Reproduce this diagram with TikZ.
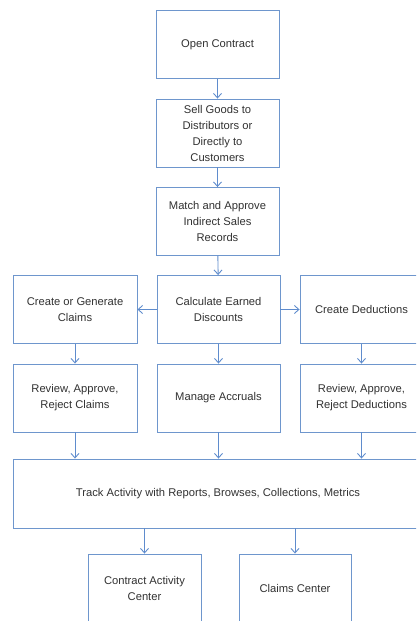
\documentclass[tikz,border=0pt]{standalone}
\usepackage{fontspec}
\setmainfont{Liberation Sans}
\usepackage{tikz}
\usetikzlibrary{arrows.meta}
\definecolor{boxblue}{RGB}{110,150,205}
\definecolor{arrowblue}{RGB}{95,140,205}
\definecolor{txtgray}{RGB}{50,50,50}
\tikzset{
  stepbox/.style={rectangle,draw=boxblue,line width=0.9pt,align=center,text=txtgray,
    font=\fontsize{11.2}{16}\selectfont,inner sep=0pt,minimum width=123pt,minimum height=68pt},
  flow/.style={arrowblue,line width=0.9pt,-{Straight Barb[length=4.5pt,width=8pt]}}
}

\begin{document}
\begin{tikzpicture}[x=1pt,y=-1pt]
 \useasboundingbox (0,0) rectangle (416,621);
 \clip (0,0) rectangle (416,621);
 \fill[white] (0,0) rectangle (416,621);
 \node[stepbox] (open) at (217.5,44.5) {Open Contract};
 \node[stepbox] (sell) at (217.5,133) {Sell Goods to\\Distributors or\\Directly to\\Customers};
 \node[stepbox] (match) at (217.5,221.5) {Match and Approve\\Indirect Sales\\Records};
 \node[stepbox] (calc) at (218.5,309.5) {Calculate Earned\\Discounts};
 \node[stepbox,minimum width=124pt] (claims) at (75,309.5) {Create or Generate\\Claims};
 \node[stepbox] (deduct) at (361.5,309.5) {Create Deductions};
 \node[stepbox,minimum width=124pt] (reviewc) at (75,398) {Review, Approve,\\Reject Claims};
 \node[stepbox] (accruals) at (218.5,398) {Manage Accruals};
 \node[stepbox] (reviewd) at (361.5,398) {Review, Approve,\\Reject Deductions};
 \node[stepbox,minimum width=410pt,minimum height=69pt] (track) at (218,493.5) {Track Activity with Reports, Browses, Collections, Metrics};
 \node[stepbox,minimum width=113pt] (cac) at (144.5,588) {Contract Activity\\Center};
 \node[stepbox,minimum width=112pt] (cc) at (295,588) {Claims Center};
 \draw[flow] (open) -- (sell);
 \draw[flow] (sell) -- (match);
 \draw[flow] (match) -- (calc);
 \draw[flow] (calc) -- (claims);
 \draw[flow] (calc) -- (deduct);
 \draw[flow] (claims) -- (reviewc);
 \draw[flow] (calc) -- (accruals);
 \draw[flow] (deduct) -- (reviewd);
 \draw[flow] (reviewc) -- (reviewc|-track.north);
 \draw[flow] (accruals) -- (accruals|-track.north);
 \draw[flow] (reviewd) -- (reviewd|-track.north);
 \draw[flow] (track.south-|cac) -- (cac);
 \draw[flow] (track.south-|cc) -- (cc);
\end{tikzpicture}
\end{document}
